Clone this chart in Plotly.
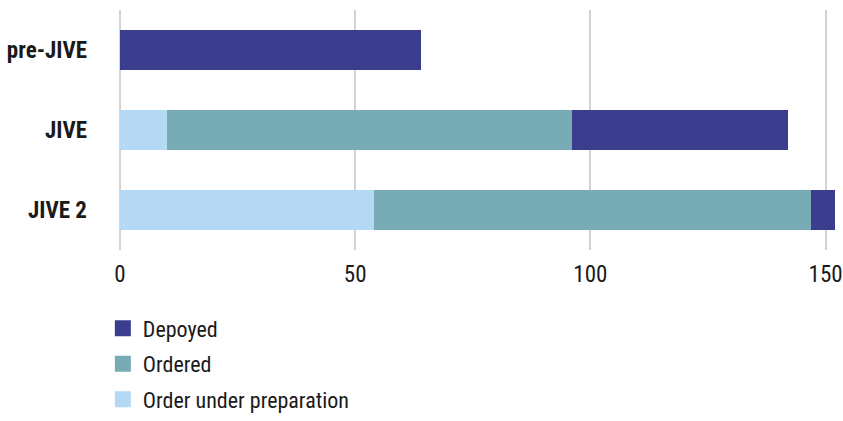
import plotly.graph_objects as go

categories = ["pre-JIVE", "JIVE", "JIVE 2"]
prep = [0, 10, 54]
ordered = [0, 86, 93]
deployed = [64, 46, 5]
x_ticks = [0, 50, 100, 150]

names = ["Order under preparation", "Ordered", "Depoyed"]
colors = {"Depoyed": "#3b3d8e", "Ordered": "#77acb5", "Order under preparation": "#b5d8f4"}
series = {"Order under preparation": prep, "Ordered": ordered, "Depoyed": deployed}

FONT = "Roboto Condensed"

fig = go.Figure()
for n in names:
    fig.add_trace(go.Bar(y=categories, x=series[n], orientation="h", name=n,
                         marker=dict(color=colors[n], line=dict(width=0)),
                         showlegend=False))
for i, n in enumerate(["Depoyed", "Ordered", "Order under preparation"]):
    fig.add_trace(go.Scatter(x=[None], y=[None], mode="markers", name=n,
                             legendgroup=str(i),
                             marker=dict(symbol="square", size=18, color=colors[n])))

fig.update_layout(
    width=843, height=421,
    margin=dict(l=120, r=8, t=10, b=171, autoexpand=False),
    barmode="stack", bargap=0.51,
    plot_bgcolor="white", paper_bgcolor="white",
    font=dict(family=FONT, size=22, color="#1a1a1a"),
    legend=dict(xref="container", yref="container", x=0.122, y=0.27,
                xanchor="left", yanchor="top", font=dict(size=22),
                tracegroupgap=4, itemwidth=30),
    xaxis=dict(range=[0, 152], tickvals=x_ticks, showgrid=True, gridcolor="#d3d3d3",
               gridwidth=2, zeroline=True, zerolinecolor="#d3d3d3", zerolinewidth=2,
               showline=False, ticklabelstandoff=8, automargin=False,
               ticklabeloverflow="allow", tickfont=dict(size=23)),
    yaxis=dict(autorange="reversed", showgrid=False, showline=False, automargin=False,
               ticklabelstandoff=32,
               tickfont=dict(size=23, weight="bold")),
)
fig.write_html("out.html")
